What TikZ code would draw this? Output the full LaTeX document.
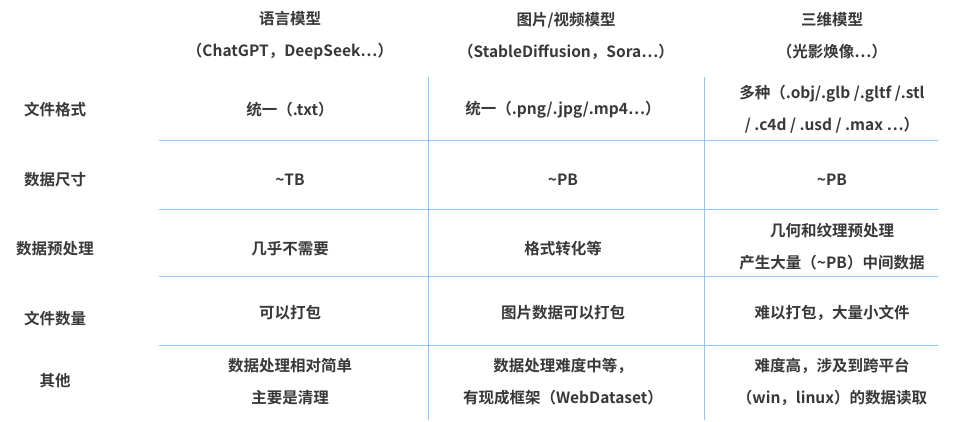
\documentclass[tikz,border=0pt]{standalone}
\usepackage{fontspec}
\setmainfont{Noto Sans CJK SC}[BoldFont={* Bold}]
\begin{document}
\begin{tikzpicture}[x=1pt,y=-1pt,
  txt/.style={font=\bfseries\fontsize{15.5}{32}\selectfont,text=black!78,align=center,inner sep=0pt},
  grid/.style={draw=blue!50!cyan!45,line width=0.9pt}]
\useasboundingbox (0,0) rectangle (960,422);
\coordinate (v1t) at (428,77); \coordinate (v1b) at (428,420);
\coordinate (v2t) at (704,77); \coordinate (v2b) at (704,420);
\draw[grid] (v1t) -- (v1b);
\draw[grid] (v2t) -- (v2b);
\foreach \y/\n in {140/a,209/b,276/c,345/d}{
  \coordinate (hl\n) at (159,\y); \coordinate (hr\n) at (938,\y);
  \draw[grid] (hl\n) -- (hr\n);}
\node[txt] (h1) at (290,36) {语言模型\\（ChatGPT，DeepSeek…）};
\node[txt] (h2) at (566,36) {图片/视频模型\\（StableDiffusion，Sora…）};
\node[txt] (h3) at (832,36) {三维模型\\（光影焕像…）};
\node[txt] (r1) at (55,110) {文件格式};
\node[txt] (r2) at (55,180) {数据尺寸};
\node[txt] (r3) at (55,249) {数据预处理};
\node[txt] (r4) at (55,319) {文件数量};
\node[txt] (r5) at (55,381) {其他};
\node[txt] (c11) at (290,110) {统一（.txt）};
\node[txt] (c12) at (563,110) {统一（.png/.jpg/.mp4…）};
\node[txt] (c13) at (832,109) {多种（.obj/.glb /.gltf /.stl\\/ .c4d / .usd / .max …）};
\node[txt] (c21) at (290,180) {\textasciitilde TB};
\node[txt] (c22) at (563,180) {\textasciitilde PB};
\node[txt] (c23) at (832,180) {\textasciitilde PB};
\node[txt] (c31) at (290,249) {几乎不需要};
\node[txt] (c32) at (563,249) {格式转化等};
\node[txt] (c33) at (832,247) {几何和纹理预处理\\产生大量（\textasciitilde PB）中间数据};
\node[txt] (c41) at (290,313) {可以打包};
\node[txt] (c42) at (563,313) {图片数据可以打包};
\node[txt] (c43) at (832,313) {难以打包，大量小文件};
\node[txt] (c51) at (290,382) {数据处理相对简单\\主要是清理};
\node[txt] (c52) at (563,382) {数据处理难度中等，\\有现成框架（WebDataset）};
\node[txt] (c53) at (832,382) {难度高，涉及到跨平台\\（win，linux）的数据读取};
\end{tikzpicture}
\end{document}
